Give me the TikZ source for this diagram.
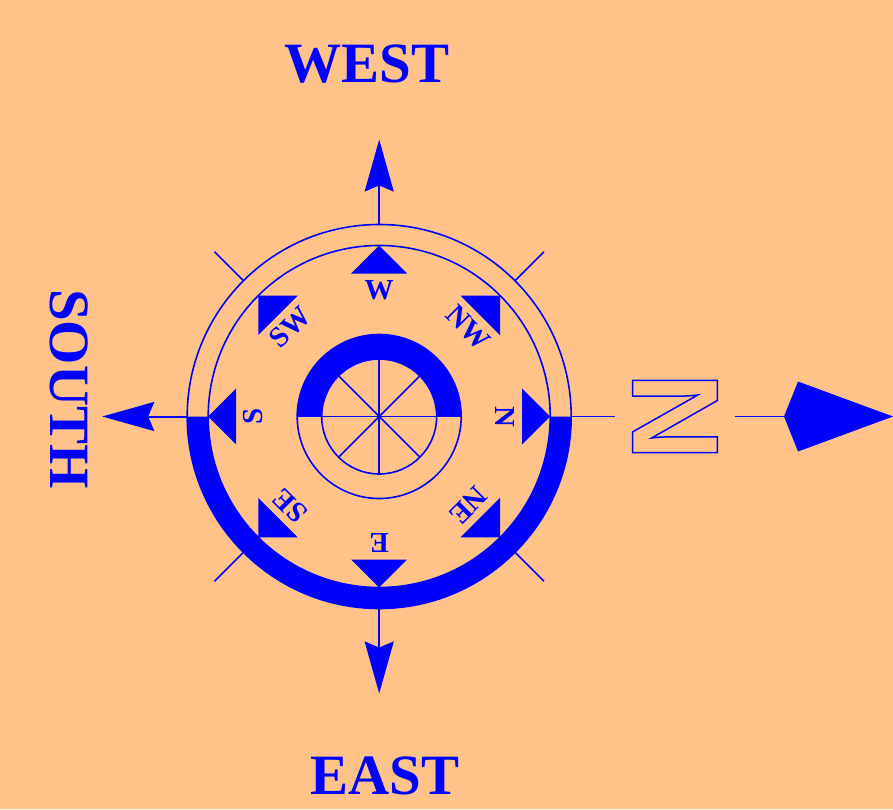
\documentclass[tikz,border=0pt]{standalone}
\usepackage{fontspec}
\setmainfont{Liberation Serif}
\newfontfamily\nfont{Liberation Sans}
\usetikzlibrary{arrows.meta}
\definecolor{peach}{RGB}{255,195,138}
\newcommand\hollow[1]{\special{pdf:literal direct 1 Tr 1.5 w}#1\special{pdf:literal direct 0 Tr}}

\begin{document}
\begin{tikzpicture}[
  x=1pt, y=1pt, line width=1.6pt, blue,
  rim/.style={draw, circle, inner sep=0pt, outer sep=0pt, minimum size=#1},
  big/.style={font=\fontsize{57}{60}\selectfont\bfseries, text=blue, inner sep=0pt},
  pnt/.style={font=\fontsize{29}{30}\selectfont\bfseries, text=blue, inner sep=0pt},
  arr/.style={-{Stealth[length=52pt, width=29pt, inset=6pt]}, line width=2pt},
  kite/.style={-{Kite[length=109pt, width=70pt, inset=14pt]}}
]
  %% --- Background and frame ---
  \fill[peach] (-379.2,-392.5) rectangle (513.8,416.5);
  \useasboundingbox (-379.2,-392.5) rectangle (513.8,416.5);
  %% --- Rings ---
  \node[rim=384pt] (rim) at (0,0) {};
  \node[rim=342pt] (rimin) at (0,0) {};
  \node[rim=164pt] (hub) at (0,0) {};
  \node[rim=115pt] (core) at (0,0) {};
  \fill (192,0) arc[start angle=0, end angle=-180, radius=192]
     -- (-171,0) arc[start angle=180, end angle=360, radius=171] -- cycle;
  \fill (82,0) arc[start angle=0, end angle=180, radius=82]
     -- (-57.5,0) arc[start angle=180, end angle=0, radius=57.5] -- cycle;
  \draw (hub.west) -- (hub.east);
  \foreach \a in {0,45,...,315}
    \draw (0,0) -- (\a:57.5);
  %% --- Point markers and names ---
  \foreach \a in {0,45,...,315}
    \fill[rotate=\a] (171,0) -- (143,28) -- (143,-28) -- cycle;
  \foreach \a/\t in {0/N, 45/NW, 90/W, 135/SW, 180/S, 225/SE, 270/E, 315/NE}
    \node[pnt, rotate=\a-90] (l\t) at (\a:126) {\t};
  \foreach \a in {45,135,225,315}
    \draw (rim.\a) -- (\a:233);
  %% --- Arrows out of the rim ---
  \coordinate (tipW) at (0,277);
  \coordinate (tipS) at (-277,0);
  \coordinate (tipE) at (0,-277);
  \coordinate (tipN) at (513.8,0);
  \draw[arr] (rim.north) -- (tipW);
  \draw[arr] (rim.west) -- (tipS);
  \draw[arr] (rim.south) -- (tipE);
  \node[rotate=-90, anchor=base, inner sep=17pt,
        font=\nfont\bfseries\fontsize{123}{123}\selectfont] (nN) at (253.5,0)
    {\hollow{N}};
  \draw (rim.east) -- (nN);
  \draw[kite] (nN) -- (tipN);
  %% --- Big labels ---
  \node[big, anchor=base] (west) at (-12,334) {WEST};
  \node[big, anchor=base] (east) at (6,-377.5) {EAST};
  \node[big, anchor=base, rotate=-90] (south) at (-328.5,27.5) {SOUTH};
\end{tikzpicture}
\end{document}
